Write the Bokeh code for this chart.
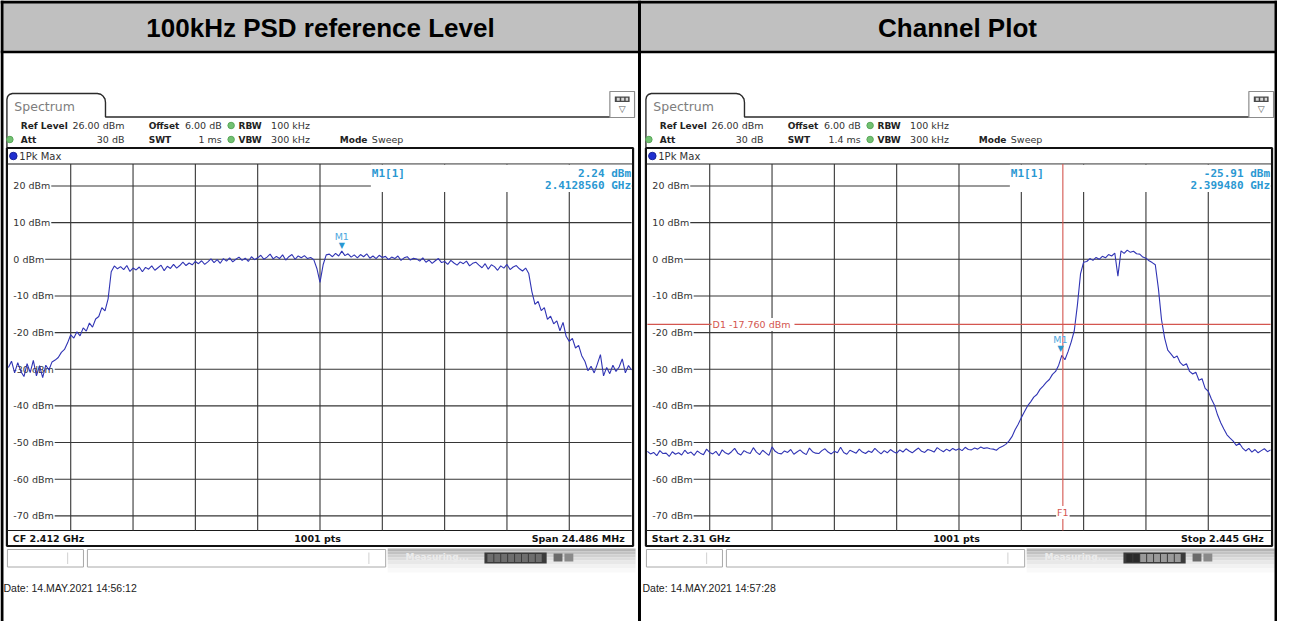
import numpy as np
from bokeh.plotting import figure
from bokeh.models import Range1d
from bokeh.core.properties import value
from bokeh.embed import file_html
from bokeh.resources import INLINE

# ---------------- chart data ----------------
panel_titles = ["100kHz PSD reference Level", "Channel Plot"]
db_ticks = [20, 10, 0, -10, -20, -30, -40, -50, -60, -70]
ref_level_dbm = 26.0
db_per_div = 10.0
n_ydiv = 10
n_xdiv = 10

# left screen: CF 2.412 GHz, span 24.486 MHz
left_cf_mhz = 2412.0
left_span_mhz = 24.486
left_trace_dbm = [
    -29.5, -27.8, -31.0, -28.2, -30.6, -32.0, -28.5, -30.9, -27.6, -31.8, -29.0, -32.3, -28.9, -30.2, -28.0,
    -27.5, -26.8, -25.4, -24.6, -22.8, -20.6, -21.5, -19.8, -20.9, -18.7, -19.6, -17.4, -18.5, -16.3, -15.6,
    -13.2, -14.1, -10.8, -3.4, -1.8, -2.6,
    -2.0, -2.8, -1.7, -3.3, -2.4, -2.9, -2.1, -3.4, -2.2, -2.7, -1.8, -3.0, -2.3, -1.6, -3.1, -1.9, -2.5, -1.4, -2.4, -1.7,
    -0.8, -1.7, -1.0, -1.5, -0.6, -1.2, -0.4, -1.4, -0.7, 0.1, -0.9, -0.1, -1.1, 0.2, -0.5, 0.4, -0.7, 0.0, 0.6, -0.3,
    0.3, -0.6, 0.7, -0.1, 0.4,
    1.1, 0.0, 0.6, 1.4, 0.1, 0.8, 0.2, 1.2, -0.2, 0.7, 1.3, 0.0, 0.9, 0.4, 1.0, 0.2, 0.5, -0.1,
    -2.5, -6.3, -1.5, 1.2,
    1.4, 0.7, 1.6, 0.9, 2.24, 1.0, 1.5, 0.6,
    1.2, 0.4, 1.3, 0.7, 1.5, 0.3, 0.9, 0.2, 1.1, 0.5, 0.8, -0.1, 0.6, 0.2, 0.9, -0.3, 0.4, 0.7, -0.2, 0.3,
    0.1, -0.5, 0.4, -0.8, -0.2, -1.1, -0.4, 0.2, -0.9, -0.6, -1.4, -0.3, -1.0, -1.6, -0.7, -1.2, -0.5, -1.8, -1.1, -0.8,
    -1.6, -2.3, -1.2, -2.7, -1.5, -2.0, -3.0, -1.8, -2.4, -1.4, -2.8, -2.1, -1.7, -2.6, -3.2,
    -2.4, -3.9, -8.8, -12.3, -11.5, -14.0, -13.2, -16.4, -15.5, -17.6, -16.8, -19.5, -17.2, -21.0, -22.4,
    -21.6, -24.2, -23.5, -26.3, -27.8, -30.4, -29.2, -31.0, -28.6, -26.0, -31.8, -29.5, -31.2, -28.9, -30.6,
    -29.4, -27.2, -31.0, -29.0, -30.2,
]
left_m1_mhz = 2412.856
left_m1_dbm = 2.24

# right screen: start 2.31 GHz, stop 2.445 GHz
right_start_mhz = 2310.0
right_stop_mhz = 2445.0
right_trace_dbm = [
    -52.4, -53.1, -52.7, -53.6, -52.2, -53.0, -52.9, -53.8, -52.5, -53.2,
    -52.8, -53.4, -52.1, -53.0, -52.6, -53.5, -52.3, -52.9, -53.3, -51.8,
    -52.7, -53.1, -52.4, -53.6, -52.0, -52.8, -53.2, -52.5, -51.6, -52.9,
    -53.4, -52.2, -52.7, -53.0, -51.4, -52.6, -53.3, -52.1, -52.8, -53.5,
    -51.2, -52.4, -52.9, -53.1, -52.3, -52.7, -51.9, -53.2, -52.6, -52.0,
    -52.8, -53.3, -51.5, -52.5, -52.9, -53.0, -52.2, -51.7, -52.6, -53.1,
    -52.4, -52.8, -51.3, -52.7, -53.2, -52.1, -52.5, -52.9, -51.8, -52.6,
    -53.0, -52.3, -52.7, -51.6, -52.4, -53.1, -52.2, -52.8, -51.9, -52.5,
    -52.9, -52.0, -52.6, -51.7, -52.3, -52.8, -52.1, -51.5, -52.4, -52.7,
    -51.9, -52.2, -52.6, -51.4, -52.0, -52.5, -51.8, -52.3, -51.6, -52.1,
    -51.7, -52.2, -51.3, -51.9, -52.0, -51.5, -51.8, -51.2, -51.6, -51.4,
    -51.7,
    -51.8, -52.1, -51.4, -51.0, -50.5, -49.6, -48.4, -46.5, -45.0, -43.2,
    -41.6, -40.0, -38.9, -37.6, -36.9, -35.5, -34.6, -33.6, -32.8, -31.4,
    -30.6, -28.9, -26.2, -27.4, -25.2, -22.6, -19.5, -12.5, -4.0, -0.8,
    -0.6, 0.2, -0.3, 0.5, 0.0, 0.8, 0.4, 1.3, 0.9, 1.7,
    -4.6,
    2.3, 1.6, 2.5, 1.9, 2.2, 1.5, 1.4, 0.6, 0.3, -0.4, -0.9,
    -1.5, -8.0, -16.5, -21.5, -24.8, -25.8, -26.9, -26.4, -28.2, -29.0,
    -28.5, -30.6, -31.3, -30.8, -33.0, -32.6, -35.2, -36.0, -38.1, -39.8,
    -42.5, -44.6, -46.3, -47.9, -48.8, -49.6, -50.8, -50.2, -51.5, -52.3,
    -51.6, -52.6, -51.9, -52.8, -52.2, -51.7, -52.5, -52.0,
]
right_m1_mhz = 2399.48
right_m1_dbm = -25.91
right_d1_dbm = -17.76
right_f1_mhz = 2400.0

settings_row1 = [("Ref Level", "26.00 dBm"), ("Offset", "6.00 dB"), ("RBW", "100 kHz")]
settings_row2_left = [("Att", "30 dB"), ("SWT", "1 ms"), ("VBW", "300 kHz"), ("Mode", "Sweep")]
settings_row2_right = [("Att", "30 dB"), ("SWT", "1.4 ms"), ("VBW", "300 kHz"), ("Mode", "Sweep")]
footers = [("CF 2.412 GHz", "1001 pts", "Span 24.486 MHz"),
           ("Start 2.31 GHz", "1001 pts", "Stop 2.445 GHz")]
dates = ["Date: 14.MAY.2021  14:56:12", "Date: 14.MAY.2021  14:57:28"]
m1_texts = [("M1[1]", "2.24 dBm", "2.4128560 GHz"), ("M1[1]", "-25.91 dBm", "2.399480 GHz")]

# ---------------- layout (reference pixel space) ----------------
W, H = 1293, 621
OX = [0, 647]
GX0, GX1 = 8.0, 639.0
GY0, GY1 = 163.5, 530.0

SANS = "DejaVu Sans"
MONO = "DejaVu Sans Mono"
ARIAL = "Liberation Sans"
TRACE = "#3034b4"
GRID = "#363636"
MK = "#2a98d2"
RED = "#d4564f"

p = figure(width=1277, height=621, x_range=Range1d(0, W), y_range=Range1d(H, 0),
           x_axis_location=None, y_axis_location=None, output_backend="svg",
           toolbar_location=None, min_border=0)
p.xgrid.visible = False
p.ygrid.visible = False
p.outline_line_color = None
p.background_fill_color = "white"
p.border_fill_color = "white"

bottom_dbm = ref_level_dbm - n_ydiv * db_per_div
dbpp = (ref_level_dbm - bottom_dbm) / (GY1 - GY0)
p.extra_y_ranges = {"db": Range1d(ref_level_dbm - (H - GY0) * dbpp, ref_level_dbm + GY0 * dbpp)}


def freq_range(f0, f1, a, b):
    k = (f1 - f0) / (b - a)
    return Range1d(f0 - a * k, f0 + (W - a) * k)


left_start = left_cf_mhz - left_span_mhz / 2
left_stop = left_cf_mhz + left_span_mhz / 2
p.extra_x_ranges = {
    "f0": freq_range(left_start, left_stop, OX[0] + GX0, OX[0] + GX1),
    "f1": freq_range(right_start_mhz, right_stop_mhz, OX[1] + GX0, OX[1] + GX1),
}


def txt(x, y, s, size=9.5, font=SANS, style="normal", color="#222", align="left",
        baseline="middle", **kw):
    p.text(x=[x], y=[y], text=[s], text_font=value(font), text_font_size=f"{size}px",
           text_font_style=style, text_color=color, text_align=align,
           text_baseline=baseline, **kw)


# header
p.quad(left=[0], right=[W], top=[0], bottom=[51.5], fill_color="#c0c0c0", line_color=None)
for cx, t in zip([324, 969], panel_titles):
    txt(cx, 27.5, t, size=26, font=ARIAL, style="bold", color="black", align="center")


def draw_panel(i, fname, f_lo, f_hi, trace, row2, m1f, m1d, d1=None, f1=None):
    ox = OX[i]

    def X(v):
        return ox + v

    # tab
    tx = [6.5, 6.5, 7.2, 9, 12, 98, 101.5, 104, 105.8, 106.3, 106.3, 642]
    ty = [147, 99, 96, 94, 93, 93, 93.8, 95.8, 98.5, 102, 116.5, 116.5]
    p.line([X(v) for v in tx], ty, line_color="#2b2b2b", line_width=1.4)
    txt(X(14), 105.5, "Spectrum", size=12.5, color="#7d7d7d")
    # icon
    p.quad(left=[X(617)], right=[X(642)], top=[91], bottom=[117], fill_color="white",
           line_color="#8c8c8c", line_width=1.2)
    p.quad(left=[X(622)], right=[X(637)], top=[96], bottom=[101.5], fill_color="#4a4a4a", line_color=None)
    p.quad(left=[X(624), X(628.5), X(633)], right=[X(627), X(631.5), X(635.5)],
           top=[97.3] * 3, bottom=[100.2] * 3, fill_color="#d8d8d8", line_color=None)
    txt(X(629.5), 108.5, "\u25BD", size=9, color="#555", align="center")

    # settings rows
    (l1, v1), (l2, v2), (l3, v3) = settings_row1
    y1, y2 = 125, 139
    bs, rs = 9.0, 9.5
    txt(X(20.5), y1, l1, size=bs, style="bold")
    txt(X(125.5), y1, v1, size=rs, color="#333", align="right")
    txt(X(150), y1, l2, size=bs, style="bold")
    txt(X(224), y1, v2, size=rs, color="#333", align="right")
    txt(X(241), y1, l3, size=bs, style="bold")
    txt(X(274), y1, v3, size=rs, color="#333")
    (a1, b1), (a2, b2), (a3, b3), (a4, b4) = row2
    txt(X(20.5), y2, a1, size=bs, style="bold")
    txt(X(125.5), y2, b1, size=rs, color="#333", align="right")
    txt(X(150), y2, a2, size=bs, style="bold")
    txt(X(224), y2, b2, size=rs, color="#333", align="right")
    txt(X(241), y2, a3, size=bs, style="bold")
    txt(X(274), y2, b3, size=rs, color="#333")
    txt(X(343.5), y2, a4, size=bs, style="bold")
    txt(X(376), y2, b4, size=rs, color="#333")
    p.scatter(x=[X(9.5), X(233.5), X(233.5)], y=[y2, y1, y2], size=6.5,
              fill_color="#72c172", line_color="#5aa85a")

    # frame
    p.quad(left=[X(6.5)], right=[X(640.5)], top=[147.5], bottom=[545.5], fill_color="white",
           line_color="#111", line_width=2.2)
    p.scatter(x=[X(13)], y=[155.5], size=7.5, fill_color="#1f2fd0", line_color="#1a2399")
    txt(X(19), 155.5, "1Pk Max", size=10, color="#333")
    p.segment(x0=[X(6.5), X(6.5)], y0=[GY0, GY1], x1=[X(640.5), X(640.5)], y1=[GY0, GY1],
              line_color="#1a1a1a", line_width=1.2)

    # grid
    fdiv = [f_lo + k * (f_hi - f_lo) / n_xdiv for k in range(1, n_xdiv)]
    p.segment(x0=fdiv, y0=[ref_level_dbm] * len(fdiv), x1=fdiv, y1=[bottom_dbm] * len(fdiv),
              x_range_name=fname, y_range_name="db", line_color=GRID, line_width=1.1)
    p.segment(x0=[X(14)] * len(db_ticks), y0=db_ticks, x1=[X(GX1)] * len(db_ticks), y1=db_ticks,
              y_range_name="db", line_color=GRID, line_width=1.1)
    p.text(x=[X(12)] * len(db_ticks), y=db_ticks, text=[f"{t} dBm" for t in db_ticks],
           y_range_name="db", text_font=value(SANS), text_font_size="9.5px", text_color="#333",
           text_align="left", text_baseline="middle", background_fill_color="white", padding=1)
    # marker readout area
    p.quad(left=[X(375)], right=[X(GX1)], top=[GY0 + 0.8], bottom=[191.5], fill_color="white",
           line_color=None)

    # trace
    freqs = np.linspace(f_lo, f_hi, len(trace))
    p.line(freqs, trace, x_range_name=fname, y_range_name="db", line_color=TRACE, line_width=1.1)

    # display line / frequency line
    if d1 is not None:
        p.segment(x0=[X(GX0)], y0=[d1], x1=[X(GX1)], y1=[d1], y_range_name="db",
                  line_color=RED, line_width=1.1)
        txt(X(73), d1, f"D1  {d1:.3f} dBm", size=9.5, color=RED,
            y_range_name="db", background_fill_color="white", padding=1)
    if f1 is not None:
        p.segment(x0=[f1], y0=[ref_level_dbm], x1=[f1], y1=[bottom_dbm], x_range_name=fname,
                  y_range_name="db", line_color=RED, line_width=1.1)
        txt(f1, 512, "F1", size=9.5, color=RED, align="center",
            x_range_name=fname, background_fill_color="white", padding=1)

    # marker
    txt(m1f, m1d, "\u25BC", size=8, color=MK, align="center", baseline="bottom",
        x_range_name=fname, y_range_name="db", y_offset=-1)
    txt(m1f, m1d, "M1", size=9.5, color="#4ea8de", align="center", baseline="bottom",
        x_range_name=fname, y_range_name="db", y_offset=-9)
    mt = m1_texts[i]
    txt(X(376), 172.5, mt[0], size=11, font=MONO, style="bold", color=MK)
    txt(X(638.5), 172.5, mt[1], size=11, font=MONO, style="bold", color=MK, align="right")
    txt(X(638.5), 185, mt[2], size=11, font=MONO, style="bold", color=MK, align="right")

    # footer
    fl, fc, fr = footers[i]
    txt(X(12.5), 538, fl, size=9.5, style="bold", color="#111")
    txt(X(321), 538, fc, size=9.5, style="bold", color="#111", align="center")
    txt(X(632), 538, fr, size=9.5, style="bold", color="#111", align="right")

    # status bar
    p.quad(left=[X(7), X(88)], right=[X(84), X(390)], top=[549, 549], bottom=[566.5, 566.5],
           fill_color="white", line_color="#a8a8a8", line_width=1)
    p.segment(x0=[X(68), X(373)], y0=[552, 552], x1=[X(68), X(373)], y1=[563.5, 563.5],
              line_color="#d0d0d0", line_width=1)
    bands = [(548, 551, "#b3b3b3"), (551, 554, "#c2c2c2"), (554, 557, "#d0d0d0"),
             (557, 560, "#dcdcdc"), (560, 564, "#e8e8e8"), (564, 568, "#f2f2f2"),
             (568, 572, "#f9f9f9")]
    p.quad(left=[X(392)] * len(bands), right=[X(643)] * len(bands), top=[b[0] for b in bands],
           bottom=[b[1] for b in bands], fill_color=[b[2] for b in bands], line_color=None)
    txt(X(410), 556, "Measuring...", size=9, style="bold", color="#ececec")
    p.quad(left=[X(490)], right=[X(553)], top=[552], bottom=[563], fill_color="#3a3a3a",
           line_color=None)
    cells_l = [X(493 + 7 * k) for k in range(8)]
    cell_cols = ["#6e6e6e"] * 8 if i == 0 else ["#2a2a2a"] * 2 + ["#9a9a9a"] * 6
    p.quad(left=cells_l, right=[c + 6 for c in cells_l], top=[553.5] * 8, bottom=[561.5] * 8,
           fill_color=cell_cols, line_color=None)
    p.quad(left=[X(560), X(571)], right=[X(569), X(580)], top=[553, 553], bottom=[561, 561],
           fill_color=["#6a6a6a", "#8a8a8a"], line_color=None)

    # date
    txt(X(3), 587, dates[i], size=10.5, font=ARIAL, color="#222")


draw_panel(0, "f0", left_start, left_stop, left_trace_dbm, settings_row2_left,
           left_m1_mhz, left_m1_dbm)
draw_panel(1, "f1", right_start_mhz, right_stop_mhz, right_trace_dbm, settings_row2_right,
           right_m1_mhz, right_m1_dbm, d1=right_d1_dbm, f1=right_f1_mhz)

# table borders
p.segment(x0=[0, 1.5, 1291.5, 647, 0], y0=[1.5, 0, 0, 0, 51.5],
          x1=[W, 1.5, 1291.5, 647, W], y1=[1.5, H, H, H, 51.5],
          line_color="black", line_width=[3, 3, 3, 3, 2.5])

open("out.html", "w").write(file_html(p, INLINE))
